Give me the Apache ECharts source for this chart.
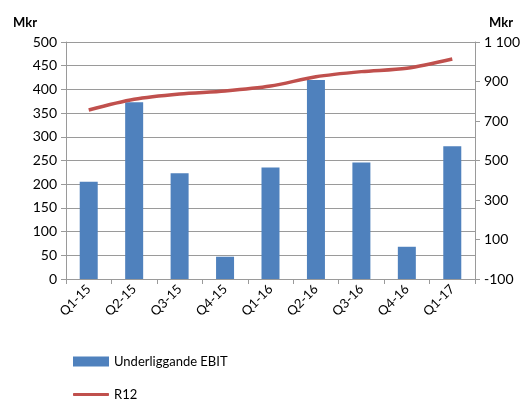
<!DOCTYPE html>
<html>
<head>
<meta charset="utf-8">
<script src="https://cdn.jsdelivr.net/npm/echarts@6/dist/echarts.min.js"></script>
<style>
  html, body { margin: 0; padding: 0; background: #fff; }
  #chart { width: 528px; height: 400px; }
</style>
</head>
<body>
<div id="chart"></div>
<script>
const quarters = ['Q1-15', 'Q2-15', 'Q3-15', 'Q4-15', 'Q1-16', 'Q2-16', 'Q3-16', 'Q4-16', 'Q1-17']
const ebit = [205, 373, 223, 47, 235, 420, 246, 68, 280]
const r12 = [756, 810, 837, 852, 877, 924, 950, 967, 1014]
const rightTicks = [-100, 100, 300, 500, 700, 900, 1100]

const font = 'Lato, "Open Sans", sans-serif'
const gray = '#9a9a9a'

const chart = echarts.init(document.getElementById('chart'))

const legendText = { fontFamily: font, fontSize: 13, color: '#000' }

const option = {
  animation: false,
  grid: { left: 66, right: 53, top: 42, bottom: 121 },
  graphic: [
    { type: 'text', left: 13, top: 16, style: { text: 'Mkr', font: 'bold 13px ' + font, fill: '#000' } },
    { type: 'text', left: 489, top: 16, style: { text: 'Mkr', font: 'bold 13px ' + font, fill: '#000' } }
  ],
  legend: [
    {
      left: 68,
      top: 350,
      itemWidth: 36,
      itemHeight: 10,
      icon: 'rect',
      textStyle: legendText,
      data: ['Underliggande EBIT']
    },
    {
      left: 68,
      top: 383,
      itemWidth: 36,
      itemHeight: 3,
      icon: 'roundRect',
      textStyle: legendText,
      data: ['R12']
    }
  ],
  xAxis: {
    type: 'category',
    data: quarters,
    axisLine: { lineStyle: { color: gray } },
    axisTick: { show: true, length: 5, lineStyle: { color: gray } },
    axisLabel: { rotate: 45, fontFamily: font, fontSize: 13, color: '#000', margin: 8 }
  },
  yAxis: [
    {
      type: 'value',
      min: 0,
      max: 500,
      interval: 50,
      axisLine: { show: true, lineStyle: { color: gray } },
      axisTick: { show: true, length: 5, lineStyle: { color: gray } },
      axisLabel: { fontFamily: font, fontSize: 14, color: '#000', margin: 9 },
      splitLine: { lineStyle: { color: gray } }
    },
    {
      type: 'value',
      min: -100,
      max: 1100,
      axisLine: { show: true, lineStyle: { color: gray } },
      axisTick: { show: true, length: 5, customValues: rightTicks, lineStyle: { color: gray } },
      axisLabel: {
        customValues: rightTicks,
        fontFamily: font,
        fontSize: 14,
        color: '#000',
        margin: 9,
        formatter: v => String(v).replace(/\B(?=(\d{3})+(?!\d))/g, ' ')
      },
      splitLine: { show: false }
    }
  ],
  series: [
    {
      name: 'Underliggande EBIT',
      type: 'bar',
      data: ebit,
      barWidth: 18,
      itemStyle: { color: '#4f81bd' }
    },
    {
      name: 'R12',
      type: 'line',
      yAxisIndex: 1,
      data: r12,
      smooth: 0.3,
      symbol: 'none',
      lineStyle: { color: '#c0504d', width: 3.5 },
      itemStyle: { color: '#c0504d' }
    }
  ]
}

chart.setOption(option)
</script>
</body>
</html>
